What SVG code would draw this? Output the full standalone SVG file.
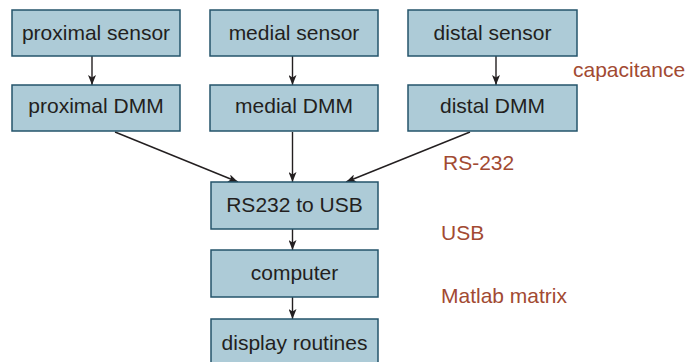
<svg xmlns="http://www.w3.org/2000/svg" width="688" height="362" viewBox="0 0 688 362">
  <style>
    .box { fill: #adcbd7; stroke: #24546b; stroke-width: 1.5; }
    .lbl { font-family: "Liberation Sans", Arial, sans-serif; font-size: 21px; fill: #231f20; text-anchor: middle; }
    .note { font-family: "Liberation Sans", Arial, sans-serif; font-size: 21px; fill: #a24a32; }
    .wire { stroke: #231f20; stroke-width: 1.4; fill: none; marker-end: url(#ah); }
  </style>
  <defs>
    <marker id="ah" viewBox="0 0 10 8" refX="10" refY="4" markerWidth="10" markerHeight="8" markerUnits="userSpaceOnUse" orient="auto">
      <path d="M0,0 L10,4 L0,8 L2.5,4 Z" fill="#231f20"/>
    </marker>
  </defs>

  <rect width="688" height="362" fill="#ffffff"/>

  <g id="connectors">
    <line class="wire" x1="92" y1="56" x2="92" y2="85"/>
    <line class="wire" x1="292.5" y1="56" x2="292.5" y2="85"/>
    <line class="wire" x1="496" y1="56" x2="496" y2="85"/>
    <line class="wire" x1="115" y1="132" x2="238" y2="182"/>
    <line class="wire" x1="292.5" y1="132" x2="292.5" y2="182"/>
    <line class="wire" x1="470" y1="132" x2="346" y2="182"/>
    <line class="wire" x1="292.5" y1="229" x2="292.5" y2="250"/>
    <line class="wire" x1="292.5" y1="297" x2="292.5" y2="319"/>
  </g>

  <g id="proximal-sensor">
    <rect class="box" x="12" y="10" width="168" height="46"/>
    <text class="lbl" x="96" y="40">proximal sensor</text>
  </g>
  <g id="medial-sensor">
    <rect class="box" x="210" y="10" width="168" height="46"/>
    <text class="lbl" x="294" y="40">medial sensor</text>
  </g>
  <g id="distal-sensor">
    <rect class="box" x="408" y="10" width="169" height="46"/>
    <text class="lbl" x="492.5" y="40">distal sensor</text>
  </g>

  <g id="proximal-dmm">
    <rect class="box" x="12" y="85" width="168" height="46"/>
    <text class="lbl" x="96" y="113">proximal DMM</text>
  </g>
  <g id="medial-dmm">
    <rect class="box" x="210" y="85" width="168" height="46"/>
    <text class="lbl" x="294" y="113">medial DMM</text>
  </g>
  <g id="distal-dmm">
    <rect class="box" x="408" y="85" width="169" height="46"/>
    <text class="lbl" x="492.5" y="113">distal DMM</text>
  </g>

  <g id="rs232-to-usb">
    <rect class="box" x="211" y="182" width="167" height="47"/>
    <text class="lbl" x="294.5" y="212">RS232 to USB</text>
  </g>
  <g id="computer">
    <rect class="box" x="211" y="250" width="167" height="47"/>
    <text class="lbl" x="294.5" y="280">computer</text>
  </g>
  <g id="display-routines">
    <rect class="box" x="211" y="319" width="167" height="47"/>
    <text class="lbl" x="294.5" y="350">display routines</text>
  </g>

  <g id="notes">
    <text class="note" x="573" y="77">capacitance</text>
    <text class="note" x="443" y="170">RS-232</text>
    <text class="note" x="441" y="240">USB</text>
    <text class="note" x="441" y="303">Matlab matrix</text>
  </g>
</svg>
